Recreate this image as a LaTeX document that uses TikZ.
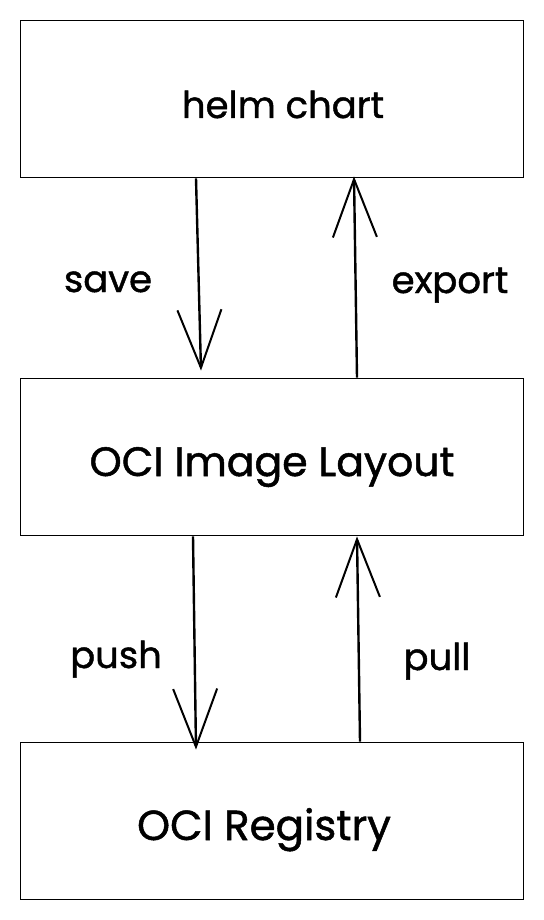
\documentclass[tikz,border=0pt]{standalone}
\usepackage{fontspec}
\setmainfont{Poppins}[FakeBold=1.2]
\usetikzlibrary{arrows.meta}
\begin{document}
\begin{tikzpicture}[x=1pt,y=-1pt,
  box/.style={draw=black,line width=1.8pt,minimum width=503pt,minimum height=157pt,inner sep=0pt,text height=38pt,text depth=0pt,font=\fontsize{41}{48}\selectfont},
  flow/.style={line width=2.4pt,-{Straight Barb[length=58pt,width=44pt,line width=2pt]}},
  lbl/.style={font=\fontsize{37}{44}\selectfont,inner sep=0pt,anchor=base}]
\useasboundingbox (0,0) rectangle (543,920);
\node[box,font=\fontsize{37}{44}\selectfont] (b1) at (272,99) {\hspace*{22pt}helm chart};
\node[box] (b2) at (272,457) {OCI Image Layout};
\node[box,font=\fontsize{42}{50}\selectfont] (b3) at (272,821) {OCI Registry\hspace*{16pt}};
\draw[flow] ([xshift=-76pt]b1.south) -- ([xshift=-71pt,yshift=7pt]b2.north);
\draw[flow] ([xshift=85pt]b2.north) -- ([xshift=82pt,yshift=2pt]b1.south);
\draw[flow] ([xshift=-79pt]b2.south) -- ([xshift=-76pt,yshift=-8pt]b3.north);
\draw[flow] ([xshift=88pt]b3.north) -- ([xshift=85pt]b2.south);
\node[lbl] (s) at (108,292) {save};
\node[lbl] (e) at (450,293) {export};
\node[lbl] (p) at (116,668) {push};
\node[lbl] (q) at (437,670) {pull};
\end{tikzpicture}
\end{document}
